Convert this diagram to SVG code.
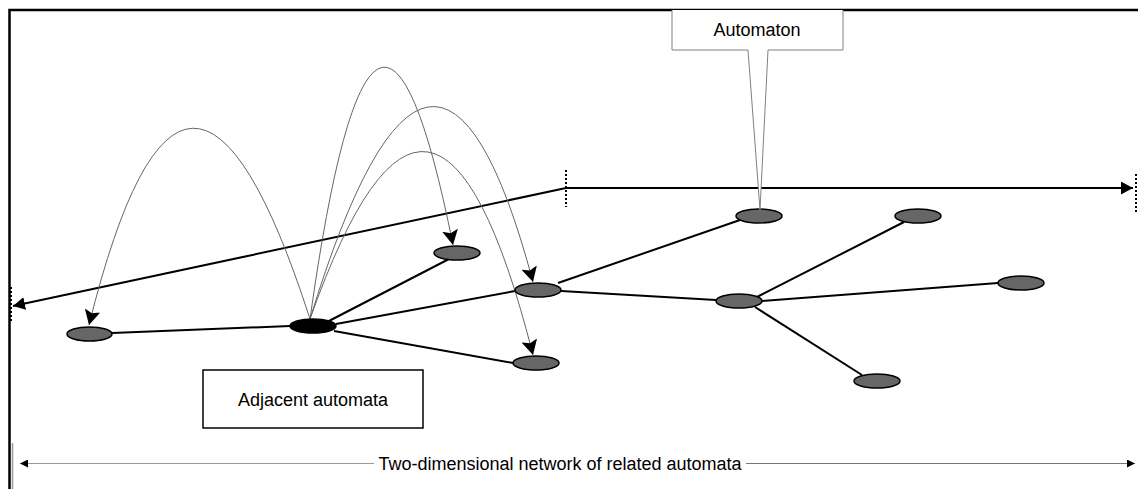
<svg xmlns="http://www.w3.org/2000/svg" width="1138" height="489" viewBox="0 0 1138 489">
<style>
.frame{stroke:#000;stroke-width:2.5;fill:none}
.axis{stroke:#000;stroke-width:2;fill:none}
.tick{stroke:#000;stroke-width:2;stroke-dasharray:2,2;fill:none}
.edge{stroke:#000;stroke-width:2;fill:none}
.arc{stroke:#666;stroke-width:1;fill:none}
.node{fill:#666;stroke:#000;stroke-width:1.5}
.lbl{font-family:"Liberation Sans",Arial,sans-serif;font-size:18px;fill:#000;text-anchor:middle}
</style>
<defs>
<marker id="ah" markerUnits="userSpaceOnUse" markerWidth="16" markerHeight="16" refX="15" refY="8" orient="auto">
<path d="M0,0 L15,8 L0,16 L3,8 z" fill="#000"/>
</marker>
<marker id="ax" markerUnits="userSpaceOnUse" markerWidth="13" markerHeight="13" refX="12" refY="6.5" orient="auto">
<path d="M0,0 L12,6.5 L0,13 z" fill="#000"/>
</marker>
<marker id="sm" markerUnits="userSpaceOnUse" markerWidth="9" markerHeight="8" refX="8" refY="4" orient="auto">
<path d="M0,0 L8,4 L0,8 z" fill="#000"/>
</marker>
</defs>
<rect width="1138" height="489" fill="#fff"/>
<g id="frame">
<path class="frame" d="M9.5,489 V10 H1138"/>
<line x1="12.5" y1="443" x2="12.5" y2="489" stroke="#999" stroke-width="1.5"/>
</g>
<g id="axes">
<line class="axis" x1="566" y1="188" x2="1133" y2="188" marker-end="url(#ax)"/>
<line class="axis" x1="566" y1="188" x2="13" y2="306" marker-end="url(#ax)"/>
<line class="tick" x1="566" y1="170" x2="566" y2="207"/>
<line class="tick" x1="11" y1="287" x2="11" y2="323"/>
<line class="tick" x1="1136" y1="174" x2="1136" y2="212"/>
</g>
<g id="connectors">
<line class="edge" x1="112" y1="333" x2="290" y2="326"/>
<line class="edge" x1="327" y1="322" x2="449" y2="259"/>
<line class="edge" x1="336" y1="324" x2="515" y2="291"/>
<line class="edge" x1="334" y1="331" x2="513" y2="363"/>
<line class="edge" x1="558" y1="283" x2="740" y2="220"/>
<line class="edge" x1="561" y1="291" x2="716" y2="300"/>
<line class="edge" x1="757" y1="297" x2="904" y2="222"/>
<line class="edge" x1="762" y1="301" x2="998" y2="283"/>
<line class="edge" x1="755" y1="307" x2="862" y2="375"/>
<path class="arc" d="M310,319 Q186,-65.5 89,325" marker-end="url(#ah)"/>
<path class="arc" d="M310,319 Q375,-144.5 453,245" marker-end="url(#ah)"/>
<path class="arc" d="M310,319 Q434.5,-86.5 533,282" marker-end="url(#ah)"/>
<path class="arc" d="M310,319 Q434.5,-33 533,355" marker-end="url(#ah)"/>
</g>
<g id="n-left"><ellipse class="node" cx="89.5" cy="334" rx="22.5" ry="7"/></g>
<g id="n-center"><ellipse cx="313" cy="326" rx="23" ry="7" fill="#000" stroke="#000" stroke-width="1.5"/></g>
<g id="n-a"><ellipse class="node" cx="457" cy="253" rx="23" ry="7"/></g>
<g id="n-b"><ellipse class="node" cx="538" cy="290" rx="23" ry="7"/></g>
<g id="n-c"><ellipse class="node" cx="536" cy="363" rx="23" ry="7"/></g>
<g id="n-d"><ellipse class="node" cx="759" cy="216" rx="23" ry="7"/></g>
<g id="n-e"><ellipse class="node" cx="918" cy="216" rx="23" ry="7"/></g>
<g id="n-f"><ellipse class="node" cx="739" cy="301" rx="23" ry="7"/></g>
<g id="n-g"><ellipse class="node" cx="1021" cy="283" rx="23" ry="7"/></g>
<g id="n-h"><ellipse class="node" cx="877" cy="381" rx="23" ry="7"/></g>
<g id="automaton-callout">
<path d="M672,10 V50 H748 L760,210 L768,50 H843 V10" fill="#fff" stroke="#808080" stroke-width="1"/>
<text class="lbl" x="757" y="36">Automaton</text>
</g>
<g id="adjacent-label">
<rect x="203" y="370" width="220" height="58" fill="#fff" stroke="#000" stroke-width="1.5"/>
<text class="lbl" x="313" y="406">Adjacent automata</text>
</g>
<g id="network-axis">
<line x1="20" y1="463.5" x2="374" y2="463.5" stroke="#999" stroke-width="1.2" marker-end="url(#sm)" transform="rotate(180 197 463.5)"/>
<line x1="746" y1="463.5" x2="1135" y2="463.5" stroke="#777" stroke-width="1.2" marker-end="url(#sm)"/>
<text class="lbl" x="560" y="470">Two-dimensional network of related automata</text>
</g>
</svg>
